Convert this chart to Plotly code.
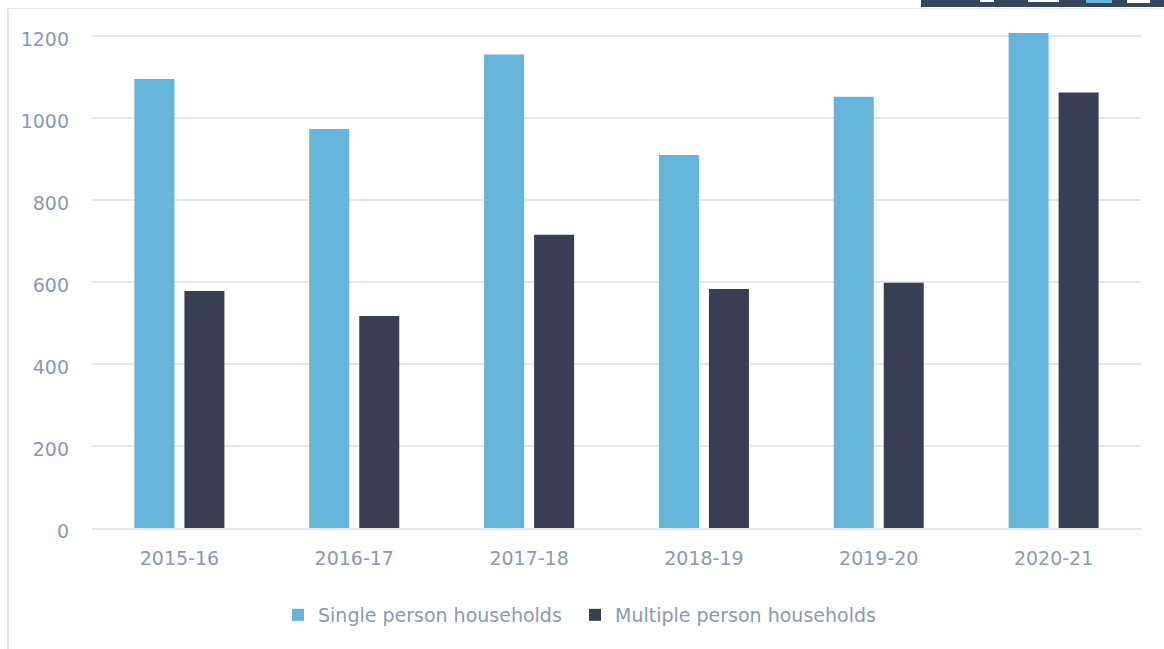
import plotly.graph_objects as go

categories = ["2015-16", "2016-17", "2017-18", "2018-19", "2019-20", "2020-21"]
single_person = [1095, 973, 1155, 910, 1052, 1207]
multiple_person = [578, 517, 715, 583, 598, 1062]
y_ticks = [0, 200, 400, 600, 800, 1000, 1200]

W, H = 1164, 649
L, R, T, B = 92, 23, 20, 121
TXT = "#8c99b3"
GRID = "#e4e5f0"
FONT = "DejaVu Sans"
SIZE = 19


def px(x):
    return (x - L) / (W - L - R)


def py(y):
    return (H - B - y) / (H - T - B)


fig = go.Figure()
fig.add_bar(name="Single person households", x=categories, y=single_person,
            legendwidth=252,
            marker=dict(color="#65b5da", line=dict(width=0)))
fig.add_bar(name="Multiple person households", x=categories, y=multiple_person,
            legendwidth=285,
            marker=dict(color="#393f52", line=dict(width=0)))

frame = [
    dict(type="rect", x0=px(921), x1=px(1164), y0=py(0), y1=py(7),
         fillcolor="#35455a", line_width=0),
    dict(type="rect", x0=px(7), x1=px(9), y0=py(8), y1=py(649),
         fillcolor="#e4e4ee", line_width=0),
    dict(type="rect", x0=px(8), x1=px(1164), y0=py(8), y1=py(9),
         fillcolor="#e8e8f0", line_width=0),
    dict(type="rect", x0=px(980), x1=px(994), y0=py(0), y1=py(2),
         fillcolor="#ffffff", line_width=0),
    dict(type="rect", x0=px(1028), x1=px(1059), y0=py(0), y1=py(2),
         fillcolor="#ffffff", line_width=0),
    dict(type="rect", x0=px(1086), x1=px(1112), y0=py(0), y1=py(3),
         fillcolor="#65b5da", line_width=0),
    dict(type="rect", x0=px(1127), x1=px(1150), y0=py(0), y1=py(3),
         fillcolor="#ffffff", line_width=0),
]
for s in frame:
    s.update(xref="paper", yref="paper", layer="above")

fig.update_layout(
    width=W, height=H, autosize=False,
    margin=dict(l=L, r=R, t=T, b=B, pad=0),
    paper_bgcolor="#ffffff", plot_bgcolor="#ffffff",
    barmode="group", bargap=0.428, bargroupgap=0.2,
    font=dict(family=FONT, color=TXT, size=SIZE),
    shapes=frame,
    legend=dict(orientation="h", x=px(278), xanchor="left", y=py(615), yanchor="middle",
                font=dict(family=FONT, size=SIZE, color=TXT),
                itemsizing="constant", traceorder="normal", itemwidth=30),
    xaxis=dict(showline=True, linecolor=GRID, linewidth=2, ticks="", showgrid=False,
               ticklabelstandoff=12,
               tickfont=dict(family=FONT, size=SIZE, color=TXT)),
    yaxis=dict(range=[0, 1239], tickvals=y_ticks, showline=False, zeroline=False,
               gridcolor=GRID, gridwidth=2, ticks="", ticklabelstandoff=22,
               ticklabelshift=3,
               tickfont=dict(family=FONT, size=SIZE, color=TXT)),
)

fig.write_html("out.html", post_script="document.body.style.margin='0';",
               config={"displayModeBar": False})
